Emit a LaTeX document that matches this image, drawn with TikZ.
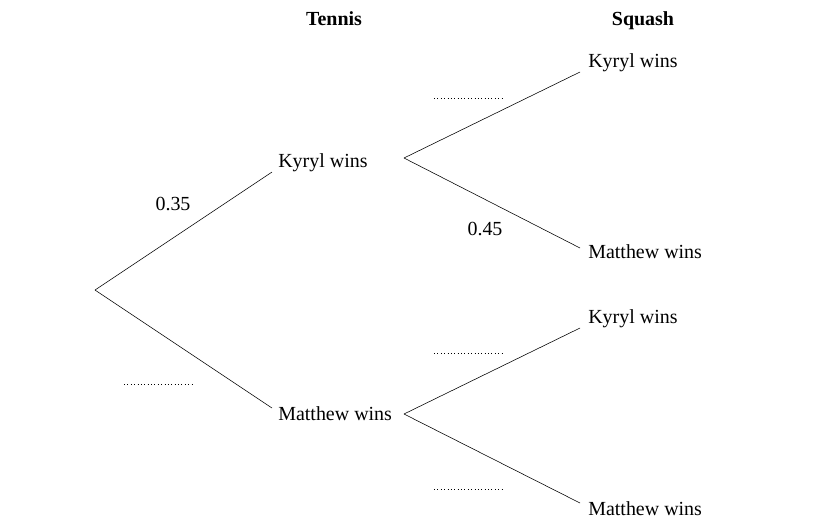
\documentclass[tikz,border=0pt]{standalone}
\usepackage{fontspec}
\setmainfont{Liberation Serif}
\usetikzlibrary{positioning, calc}
\tikzset{%
	outcome/.style={anchor=west, inner sep=0mm, font=\fontsize{14.2}{16}\selectfont},
	head/.style={anchor=base, inner sep=0mm, font=\fontsize{14.2}{16}\selectfont\bfseries},
	prob/.style={inner sep=0mm, font=\fontsize{14.2}{16}\selectfont},
	branch/.style={thin},
	blank/.style={dotted, thin}
}
\begin{document}
\begin{tikzpicture}[x=0.025cm, y=-0.025cm]
	\useasboundingbox (0,0) rectangle (820,522);
	\node[head] (tennis) at (334,25) {Tennis};
	\node[head] (squash) at (643,25) {Squash};

	\coordinate (root) at (95,290);
	\node[outcome] (tk) at (278,163) {Kyryl wins};
	\node[outcome] (tm) at (278,414) {Matthew wins};
	\coordinate (ok) at (404,158);
	\coordinate (om) at (404,414);
	\node[outcome] (kk) at (588,63) {Kyryl wins};
	\node[outcome] (km) at (588,252) {Matthew wins};
	\node[outcome] (mk) at (588,319) {Kyryl wins};
	\node[outcome] (mm) at (588,509) {Matthew wins};

	\draw[branch] (root) -- ($(tk.west)+(-6,9)$);
	\draw[branch] (root) -- ($(tm.west)+(-6,-6)$);
	\draw[branch] (ok) -- ($(kk.west)+(-8,9)$);
	\draw[branch] (ok) -- ($(km.west)+(-8,-4)$);
	\draw[branch] (om) -- ($(mk.west)+(-8,9)$);
	\draw[branch] (om) -- ($(mm.west)+(-8,-6)$);

	\node[prob] (p1) at (173,204) {0.35};
	\node[prob] (p2) at (485,229) {0.45};
	\draw[blank] (124,384) -- (192,384);
	\draw[blank] (434,98) -- (502,98);
	\draw[blank] (434,353) -- (502,353);
	\draw[blank] (434,489) -- (502,489);
\end{tikzpicture}
\end{document}
